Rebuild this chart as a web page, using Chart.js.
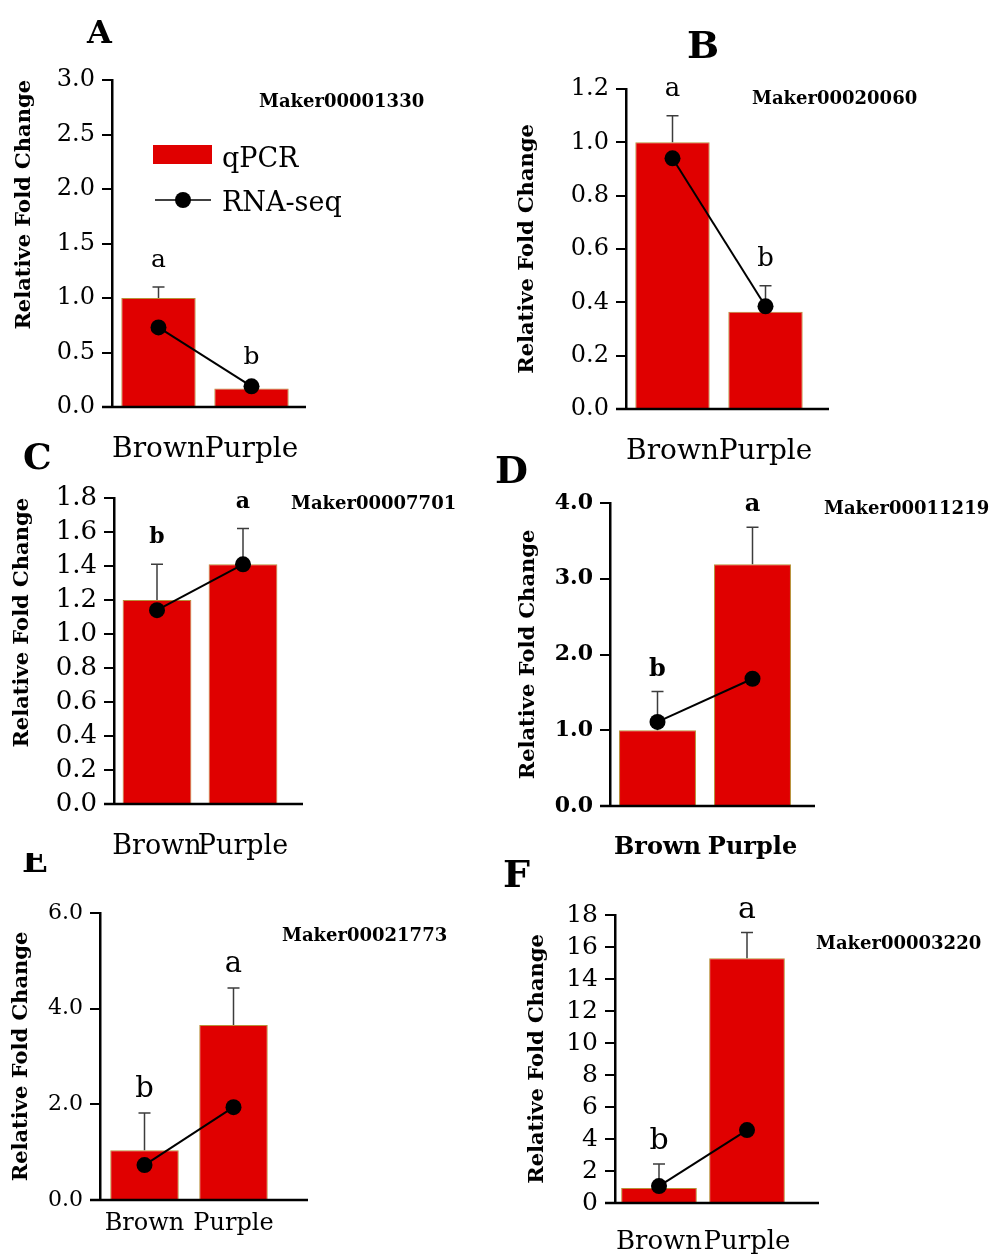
<!DOCTYPE html>
<html>
<head>
<meta charset="utf-8">
<script src="https://cdn.jsdelivr.net/npm/chart.js@4.4.1/dist/chart.umd.min.js"></script>
<style>
html,body{margin:0;padding:0;background:#fff;}
#page{position:relative;width:992px;height:1256px;overflow:hidden;background:#fff;}
#page canvas{position:absolute;left:0;top:0;}
.lbl{position:absolute;font-family:'DejaVu Serif',serif;font-weight:bold;color:#000;line-height:1;white-space:nowrap;}
.clip{position:absolute;overflow:hidden;}
</style>
</head>
<body>
<div id="page">
  <canvas id="cA" width="992" height="1256"></canvas>
  <canvas id="cB" width="992" height="1256"></canvas>
  <canvas id="cC" width="992" height="1256"></canvas>
  <canvas id="cD" width="992" height="1256"></canvas>
  <canvas id="cE" width="992" height="1256"></canvas>
  <canvas id="cF" width="992" height="1256"></canvas>

  <div class="lbl" style="left:87px;top:16px;font-size:32px;">A</div>
  <div class="lbl" style="left:687px;top:26px;font-size:38px;">B</div>
  <div class="lbl" style="left:23px;top:438px;font-size:36px;">C</div>
  <div class="lbl" style="left:495px;top:451px;font-size:38px;">D</div>
  <div class="clip" style="left:18px;top:853px;width:30px;height:20px;"><div class="lbl" style="left:4px;top:-10px;font-size:34px;">E</div></div>
  <div class="lbl" style="left:503px;top:855px;font-size:38px;">F</div>

  <div class="lbl" style="left:259px;top:92px;font-size:18px;">Maker00001330</div>
  <div class="lbl" style="left:752px;top:89px;font-size:18px;">Maker00020060</div>
  <div class="lbl" style="left:291px;top:494px;font-size:18px;">Maker00007701</div>
  <div class="lbl" style="left:824px;top:499px;font-size:18px;">Maker00011219</div>
  <div class="lbl" style="left:282px;top:926px;font-size:18px;">Maker00021773</div>
  <div class="lbl" style="left:816px;top:934px;font-size:18px;">Maker00003220</div>
</div>
<script>
// ---------------- data ----------------
const categories = ['Brown', 'Purple'];
const seriesNames = ['qPCR', 'RNA-seq'];
const yTitle = 'Relative Fold Change';

const qpcrA = [1.00, 0.17];
const sdA   = [0.10, 0.04];
const rnaA  = [0.73, 0.19];
const sigA  = ['a', 'b'];
const yTicksA = ['0.0', '0.5', '1.0', '1.5', '2.0', '2.5', '3.0'];

const qpcrB = [1.00, 0.365];
const sdB   = [0.10, 0.097];
const rnaB  = [0.94, 0.385];
const sigB  = ['a', 'b'];
const yTicksB = ['0.0', '0.2', '0.4', '0.6', '0.8', '1.0', '1.2'];

const qpcrC = [1.20, 1.41];
const sdC   = [0.21, 0.21];
const rnaC  = [1.14, 1.41];
const sigC  = ['b', 'a'];
const yTicksC = ['0.0', '0.2', '0.4', '0.6', '0.8', '1.0', '1.2', '1.4', '1.6', '1.8'];

const qpcrD = [1.00, 3.19];
const sdD   = [0.51, 0.49];
const rnaD  = [1.11, 1.68];
const sigD  = ['b', 'a'];
const yTicksD = ['0.0', '1.0', '2.0', '3.0', '4.0'];

const qpcrE = [1.04, 3.66];
const sdE   = [0.78, 0.77];
const rnaE  = [0.73, 1.94];
const sigE  = ['b', 'a'];
const yTicksE = ['0.0', '2.0', '4.0', '6.0'];

const qpcrF = [0.94, 15.3];
const sdF   = [1.50, 1.60];
const rnaF  = [1.06, 4.56];
const sigF  = ['b', 'a'];
const yTicksF = ['0', '2', '4', '6', '8', '10', '12', '14', '16', '18'];

// ---------------- layout / style ----------------
const FAMILY = "'DejaVu Serif', serif";
const PAGE_W = 992, PAGE_H = 1256, X_AXIS_H = 70;

const panels = [
  { canvas: 'cA', qpcr: qpcrA, sd: sdA, rna: rnaA, sig: sigA, ticks: yTicksA,
    area: { left: 112, right: 298, top: 80, bottom: 407 }, titleX: 25, titleAlign: 'end',
    tickSize: 24, catSize: 28, catPad: 26, sigSize: 25, sigGap: 20, bold: false, barPct: 0.8, extend: 8, legend: true },
  { canvas: 'cB', qpcr: qpcrB, sd: sdB, rna: rnaB, sig: sigB, ticks: yTicksB,
    area: { left: 626, right: 812, top: 89, bottom: 409 }, titleX: 528, titleAlign: 'center',
    tickSize: 24, catSize: 28, catPad: 26, sigSize: 26, sigGap: 20, bold: false, barPct: 0.8, extend: 17 },
  { canvas: 'cC', qpcr: qpcrC, sd: sdC, rna: rnaC, sig: sigC, ticks: yTicksC,
    area: { left: 114, right: 286, top: 498, bottom: 804 }, titleX: 23, titleAlign: 'end',
    tickSize: 26, catSize: 27, catPad: 27, sigSize: 22, sigGap: 21, bold: false, sigBold: true, barPct: 0.8, extend: 17 },
  { canvas: 'cD', qpcr: qpcrD, sd: sdD, rna: rnaD, sig: sigD, ticks: yTicksD,
    area: { left: 610, right: 800, top: 503, bottom: 806 }, titleX: 529, titleAlign: 'center',
    tickSize: 22, catSize: 24, catPad: 27, sigSize: 24, sigGap: 16, bold: true, sigBold: true, barPct: 0.81, extend: 15 },
  { canvas: 'cE', qpcr: qpcrE, sd: sdE, rna: rnaE, sig: sigE, ticks: yTicksE,
    area: { left: 100, right: 278, top: 913, bottom: 1200 }, titleX: 22, titleAlign: 'center',
    tickSize: 22, catSize: 24, catPad: 9, sigSize: 29, sigGap: 16, bold: false, barPct: 0.77, extend: 30 },
  { canvas: 'cF', qpcr: qpcrF, sd: sdF, rna: rnaF, sig: sigF, ticks: yTicksF,
    area: { left: 615, right: 791, top: 915, bottom: 1203 }, titleX: 538, titleAlign: 'center',
    tickSize: 25, catSize: 26, catPad: 24, sigSize: 30, sigGap: 15, bold: false, barPct: 0.86, extend: 28 }
];

// ---------------- plugins ----------------
const errorBarPlugin = {
  id: 'errorBars',
  afterDatasetDraw(chart, args, opts) {
    if (args.index !== 0) return;
    const meta = chart.getDatasetMeta(0);
    const y = chart.scales.y;
    const vals = chart.data.datasets[0].data;
    const sd = opts.sd || [];
    const ctx = chart.ctx;
    ctx.save();
    ctx.strokeStyle = '#3c3c3c';
    ctx.lineWidth = 1.5;
    meta.data.forEach((bar, i) => {
      const yb = y.getPixelForValue(vals[i]);
      const yt = y.getPixelForValue(vals[i] + sd[i]);
      ctx.beginPath();
      ctx.moveTo(bar.x, yb);
      ctx.lineTo(bar.x, yt);
      ctx.moveTo(bar.x - 6, yt);
      ctx.lineTo(bar.x + 6, yt);
      ctx.stroke();
    });
    ctx.restore();
  }
};

const sigPlugin = {
  id: 'sigLetters',
  afterDatasetsDraw(chart, args, opts) {
    const meta = chart.getDatasetMeta(0);
    const y = chart.scales.y;
    const vals = chart.data.datasets[0].data;
    const ctx = chart.ctx;
    ctx.save();
    ctx.fillStyle = '#000';
    ctx.font = (opts.bold ? 'bold ' : '') + opts.size + 'px ' + FAMILY;
    ctx.textAlign = 'center';
    ctx.textBaseline = 'alphabetic';
    meta.data.forEach((bar, i) => {
      const yt = y.getPixelForValue(vals[i] + opts.sd[i]);
      ctx.fillText(opts.letters[i], bar.x, yt - opts.gap);
    });
    ctx.restore();
  }
};

const baselinePlugin = {
  id: 'baseline',
  afterDatasetsDraw(chart, args, opts) {
    const a = chart.chartArea;
    const ctx = chart.ctx;
    ctx.save();
    ctx.strokeStyle = '#000';
    ctx.lineWidth = 2.5;
    ctx.beginPath();
    ctx.moveTo(a.left - 10, a.bottom);
    ctx.lineTo(a.right + (opts.extend || 0), a.bottom);
    ctx.stroke();
    ctx.restore();
  }
};

const insideLegendPlugin = {
  id: 'insideLegend',
  afterDraw(chart, args, opts) {
    if (!opts.show) return;
    const a = chart.chartArea;
    const ctx = chart.ctx;
    const ds = chart.data.datasets;
    const x0 = a.left + 41;
    ctx.save();
    ctx.font = '27px ' + FAMILY;
    ctx.textBaseline = 'alphabetic';
    ctx.textAlign = 'left';
    // bar entry
    ctx.fillStyle = ds[0].backgroundColor;
    ctx.fillRect(x0, a.top + 65, 59, 19);
    ctx.fillStyle = '#000';
    ctx.fillText(ds[0].label, x0 + 69, a.top + 87);
    // line entry
    ctx.strokeStyle = ds[1].borderColor;
    ctx.lineWidth = 1.5;
    ctx.beginPath();
    ctx.moveTo(x0 + 2, a.top + 120);
    ctx.lineTo(x0 + 58, a.top + 120);
    ctx.stroke();
    ctx.fillStyle = ds[1].pointBackgroundColor;
    ctx.beginPath();
    ctx.arc(x0 + 30, a.top + 120, 8, 0, Math.PI * 2);
    ctx.fill();
    ctx.fillStyle = '#000';
    ctx.fillText(ds[1].label, x0 + 69, a.top + 131);
    ctx.restore();
  }
};

// ---------------- charts ----------------
panels.forEach(p => {
  const tickVals = p.ticks.map(t => parseFloat(t));
  const yMax = tickVals[tickVals.length - 1];
  const yAxisW = p.area.left - (p.titleX - 10.5);
  new Chart(document.getElementById(p.canvas), {
    data: {
      labels: categories,
      datasets: [
        { type: 'bar', label: seriesNames[0], data: p.qpcr, order: 1,
          backgroundColor: '#e00000', borderColor: '#b8913a', borderWidth: 1,
          barPercentage: p.barPct, categoryPercentage: 1.0 },
        { type: 'line', label: seriesNames[1], data: p.rna, order: 0,
          borderColor: '#000', borderWidth: 2, pointRadius: 8, pointHoverRadius: 8,
          pointBackgroundColor: '#000', pointBorderWidth: 0, fill: false, tension: 0 }
      ]
    },
    options: {
      responsive: false,
      animation: false,
      devicePixelRatio: 1,
      events: [],
      layout: { padding: { left: p.titleX - 10.5, top: p.area.top, right: PAGE_W - p.area.right, bottom: PAGE_H - p.area.bottom - X_AXIS_H } },
      plugins: {
        legend: { display: false },
        tooltip: { enabled: false },
        title: { display: false },
        errorBars: { sd: p.sd },
        sigLetters: { sd: p.sd, letters: p.sig, size: p.sigSize, gap: p.sigGap, bold: !!p.sigBold },
        baseline: { extend: p.extend },
        insideLegend: { show: !!p.legend }
      },
      scales: {
        x: {
          type: 'category',
          offset: true,
          grid: { display: false, drawTicks: false },
          border: { display: false },
          ticks: { color: '#000', padding: p.catPad, maxRotation: 0, autoSkip: false,
                   font: { family: FAMILY, size: p.catSize, weight: p.bold ? 'bold' : 'normal', lineHeight: 1.2 } },
          afterFit: s => { s.height = X_AXIS_H; }
        },
        y: {
          type: 'linear',
          min: 0,
          max: yMax,
          grid: { display: true, drawOnChartArea: false, drawTicks: true, tickLength: 10, color: '#000', lineWidth: 2 },
          border: { display: true, color: '#000', width: 2.5 },
          afterBuildTicks: s => { s.ticks = tickVals.map(v => ({ value: v })); },
          ticks: { color: '#000', padding: 7, autoSkip: false,
                   font: { family: FAMILY, size: p.tickSize, weight: p.bold ? 'bold' : 'normal' },
                   callback: (v, i) => p.ticks[i] },
          title: { display: true, text: yTitle, color: '#000', align: p.titleAlign, padding: 0,
                   font: { family: FAMILY, size: 21, weight: 'bold', lineHeight: 1 } },
          afterFit: s => { s.width = yAxisW; }
        }
      }
    },
    plugins: [errorBarPlugin, sigPlugin, baselinePlugin, insideLegendPlugin]
  });
});
</script>
</body>
</html>
